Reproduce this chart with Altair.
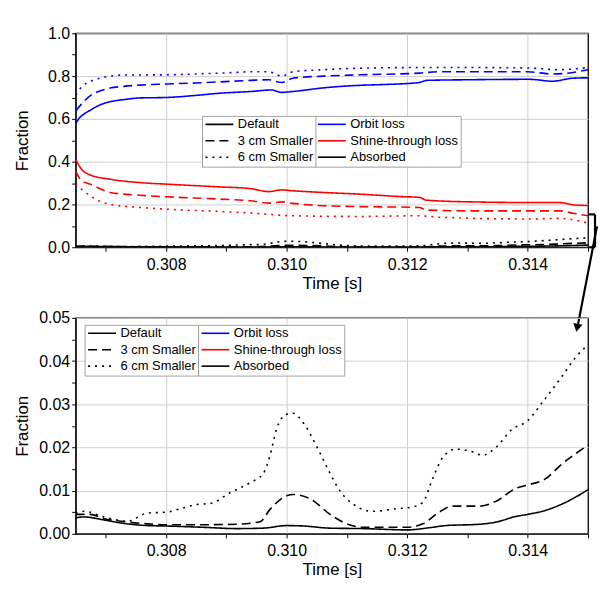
import altair as alt
import pandas as pd

# ---------------- data ----------------
CASES = ["Default", "3 cm Smaller", "6 cm Smaller"]
QUANTS = ["Orbit loss", "Shine-through loss", "Absorbed"]

orbit_default_t = [0.3065, 0.30655, 0.30665, 0.30674, 0.3069, 0.30707, 0.3073, 0.30757, 0.308, 0.3085, 0.30889, 0.3094, 0.30975, 0.30992, 0.3101, 0.31061, 0.31122, 0.31155, 0.3122, 0.31232, 0.31305, 0.31403, 0.31441, 0.31474, 0.315]
orbit_default_v = [0.577, 0.60, 0.625, 0.64, 0.665, 0.68, 0.69, 0.698, 0.70, 0.71, 0.72, 0.728, 0.735, 0.724, 0.728, 0.745, 0.757, 0.76, 0.77, 0.78, 0.783, 0.785, 0.776, 0.79, 0.792]

orbit_3cm_t = [0.3065, 0.3066, 0.30675, 0.3069, 0.30707, 0.3073, 0.30757, 0.308, 0.3085, 0.30889, 0.3094, 0.3097, 0.30992, 0.3101, 0.31061, 0.31122, 0.3122, 0.3125, 0.313, 0.3135, 0.314, 0.3144, 0.3146, 0.315]
orbit_3cm_v = [0.637, 0.67, 0.71, 0.73, 0.744, 0.752, 0.758, 0.763, 0.768, 0.773, 0.78, 0.783, 0.77, 0.79, 0.80, 0.806, 0.814, 0.82, 0.82, 0.82, 0.82, 0.81, 0.812, 0.83]

orbit_6cm_t = [0.3065, 0.3066, 0.30675, 0.3069, 0.30707, 0.3073, 0.308, 0.3085, 0.309, 0.3094, 0.3097, 0.30992, 0.3101, 0.31061, 0.31122, 0.3122, 0.313, 0.314, 0.3145, 0.315]
orbit_6cm_v = [0.713, 0.75, 0.776, 0.79, 0.80, 0.805, 0.806, 0.81, 0.815, 0.82, 0.82, 0.80, 0.82, 0.83, 0.837, 0.84, 0.84, 0.838, 0.83, 0.84]

shine_default_t = [0.3065, 0.3066, 0.30674, 0.30707, 0.30757, 0.308, 0.30889, 0.3094, 0.3097, 0.30992, 0.3101, 0.31061, 0.31122, 0.31188, 0.3122, 0.31232, 0.31305, 0.31403, 0.31452, 0.31477, 0.315]
shine_default_v = [0.41, 0.364, 0.338, 0.318, 0.302, 0.295, 0.282, 0.274, 0.26, 0.268, 0.264, 0.256, 0.248, 0.237, 0.233, 0.22, 0.212, 0.209, 0.209, 0.198, 0.195]

shine_3cm_t = [0.3065, 0.3066, 0.30674, 0.30707, 0.30757, 0.308, 0.30889, 0.3094, 0.30972, 0.30992, 0.3101, 0.31061, 0.31122, 0.3122, 0.31232, 0.31305, 0.31403, 0.31452, 0.31477, 0.315]
shine_3cm_v = [0.357, 0.31, 0.295, 0.256, 0.243, 0.236, 0.225, 0.217, 0.206, 0.212, 0.205, 0.194, 0.19, 0.186, 0.174, 0.17, 0.17, 0.17, 0.158, 0.147]

shine_6cm_t = [0.3065, 0.3066, 0.30674, 0.30707, 0.30757, 0.308, 0.30889, 0.3094, 0.3101, 0.31122, 0.3122, 0.31255, 0.31403, 0.31452, 0.315]
shine_6cm_v = [0.295, 0.27, 0.24, 0.20, 0.186, 0.178, 0.167, 0.16, 0.147, 0.144, 0.147, 0.14, 0.132, 0.135, 0.113]

absorbed_default_t = [0.3065, 0.30664, 0.30697, 0.30725, 0.30769, 0.308, 0.30862, 0.30917, 0.30961, 0.310, 0.31028, 0.31072, 0.31127, 0.312, 0.31237, 0.31264, 0.31319, 0.31347, 0.3138, 0.314, 0.31429, 0.31457, 0.315]
absorbed_default_v = [0.0037, 0.0039, 0.0032, 0.0025, 0.0019, 0.0018, 0.0015, 0.0012, 0.0013, 0.0019, 0.0018, 0.0013, 0.0012, 0.0009, 0.0014, 0.0019, 0.0022, 0.0027, 0.004, 0.0045, 0.0054, 0.0069, 0.0102]

absorbed_3cm_t = [0.3065, 0.30674, 0.30697, 0.30725, 0.30769, 0.308, 0.30862, 0.30917, 0.30956, 0.30972, 0.310, 0.31011, 0.31039, 0.31072, 0.311, 0.31127, 0.312, 0.31226, 0.31253, 0.31275, 0.31319, 0.31347, 0.3138, 0.314, 0.31429, 0.31457, 0.315]
absorbed_3cm_v = [0.0045, 0.0045, 0.0035, 0.0029, 0.0023, 0.0021, 0.0021, 0.0022, 0.0028, 0.0056, 0.0088, 0.0091, 0.0081, 0.0045, 0.0023, 0.0015, 0.0015, 0.0023, 0.005, 0.0064, 0.0064, 0.0075, 0.0105, 0.0113, 0.0127, 0.0162, 0.0205]

absorbed_6cm_t = [0.3065, 0.30664, 0.30697, 0.30736, 0.30769, 0.308, 0.30824, 0.30851, 0.30873, 0.30906, 0.30939, 0.30961, 0.30972, 0.30983, 0.310, 0.31011, 0.31028, 0.3105, 0.31072, 0.31088, 0.3111, 0.31143, 0.31182, 0.31209, 0.31226, 0.31242, 0.31259, 0.31281, 0.31303, 0.31325, 0.31347, 0.31374, 0.314, 0.31424, 0.31457, 0.31479, 0.315]
absorbed_6cm_v = [0.0047, 0.0052, 0.0039, 0.0029, 0.0048, 0.005, 0.0058, 0.0068, 0.007, 0.0095, 0.0118, 0.0139, 0.0179, 0.0241, 0.0277, 0.0279, 0.0256, 0.0202, 0.0140, 0.01, 0.0069, 0.0052, 0.0058, 0.0062, 0.0073, 0.0127, 0.0177, 0.0196, 0.0192, 0.0182, 0.02, 0.0242, 0.0262, 0.0304, 0.0365, 0.0408, 0.0438]

x_ticks = [0.307, 0.308, 0.309, 0.310, 0.311, 0.312, 0.313, 0.314, 0.315]
y_ticks_top = [0.0, 0.1, 0.2, 0.3, 0.4, 0.5, 0.6, 0.7, 0.8, 0.9, 1.0]
y_ticks_bottom = [0.0, 0.005, 0.01, 0.015, 0.02, 0.025, 0.03, 0.035, 0.04, 0.045, 0.05]

series = [
    ("Orbit loss", "Default", orbit_default_t, orbit_default_v),
    ("Orbit loss", "3 cm Smaller", orbit_3cm_t, orbit_3cm_v),
    ("Orbit loss", "6 cm Smaller", orbit_6cm_t, orbit_6cm_v),
    ("Shine-through loss", "Default", shine_default_t, shine_default_v),
    ("Shine-through loss", "3 cm Smaller", shine_3cm_t, shine_3cm_v),
    ("Shine-through loss", "6 cm Smaller", shine_6cm_t, shine_6cm_v),
    ("Absorbed", "Default", absorbed_default_t, absorbed_default_v),
    ("Absorbed", "3 cm Smaller", absorbed_3cm_t, absorbed_3cm_v),
    ("Absorbed", "6 cm Smaller", absorbed_6cm_t, absorbed_6cm_v),
]
rows = []
for q, c, ts, vs in series:
    for t, v in zip(ts, vs):
        rows.append({"t": t, "v": v, "quantity": q, "case": c})
df = pd.DataFrame(rows)
df_abs = df[df["quantity"] == "Absorbed"]

FONT = "Liberation Sans"
COLORS = ["#0000ff", "#ff0000", "#000000"]
DASHES = [[1, 0], [9, 5], [2, 5]]

x_enc = alt.X(
    "t:Q",
    scale=alt.Scale(domain=[0.3065, 0.315], nice=False, zero=False),
    axis=alt.Axis(
        title="Time [s]", values=x_ticks, labelOverlap=False, labelFlush=False,
        labelExpr="round(datum.value*1000) % 2 == 0 ? format(datum.value, '.3f') : ''",
        gridOpacity={"condition": {"test": "round(datum.value*1000) % 2 == 0", "value": 1}, "value": 0},
        tickSize=4, labelPadding=5, titlePadding=3,
    ),
)


def y_enc(domain, ticks, mult, fmt):
    return alt.Y(
        "v:Q",
        scale=alt.Scale(domain=domain, nice=False),
        axis=alt.Axis(
            title="Fraction", values=ticks, labelOverlap=False,
            labelExpr=f"round(datum.value*{mult}) % 2 == 0 ? format(datum.value, '{fmt}') : ''",
            gridOpacity={"condition": {"test": f"round(datum.value*{mult}) % 2 == 0", "value": 1}, "value": 0},
            tickSize=4, labelPadding=2, minExtent=37, maxExtent=37, titlePadding=7,
        ),
    )


def legends(x1, x2, y):
    common = dict(orient="none", legendY=y, title=None, strokeColor="#a0a0a0", fillColor="white",
                  padding=2, labelFontSize=13, labelFont=FONT, labelColor="black",
                  symbolType="M-1,0L4.6,0", symbolSize=100, symbolStrokeWidth=1.6,
                  rowPadding=2.5, labelOffset=21)
    color = alt.Color("quantity:N", scale=alt.Scale(domain=QUANTS, range=COLORS),
                      legend=alt.Legend(legendX=x2, **common))
    dash = alt.StrokeDash("case:N", scale=alt.Scale(domain=CASES, range=DASHES),
                          legend=alt.Legend(legendX=x1, symbolStrokeColor="black", **common))
    return color, dash


c_top, d_top = legends(127, 240, 83)
top_lines = alt.Chart(df).mark_line(clip=True, strokeWidth=1.6, interpolate="monotone").encode(
    x=x_enc, y=y_enc([0, 1], y_ticks_top, 10, ".1f"), color=c_top, strokeDash=d_top,
    detail="case:N",
)

one = pd.DataFrame({"k": [0]})
br_top = alt.Chart(one).mark_rule(color="black", strokeWidth=2.2).encode(
    x=alt.value(516), x2=alt.value(522), y=alt.value(182))
br_vert = alt.Chart(one).mark_rule(color="black", strokeWidth=2.2).encode(
    x=alt.value(522), y=alt.value(182), y2=alt.value(215))
br_bot = alt.Chart(one).mark_rule(color="black", strokeWidth=2.2).encode(
    x=alt.value(516), x2=alt.value(522), y=alt.value(215))
arrow_line = alt.Chart(one).mark_rule(color="black", strokeWidth=2.2).encode(
    x=alt.value(524), x2=alt.value(505), y=alt.value(194), y2=alt.value(292))
arrow_head = alt.Chart(one).mark_point(shape="triangle-down", filled=True, color="black",
                                       size=90, angle=11, opacity=1).encode(
    x=alt.value(504), y=alt.value(296))

top = alt.layer(top_lines, br_top, br_vert, br_bot, arrow_line, arrow_head).properties(
    width=515, height=215)

c_bot, d_bot = legends(9, 123, 7)
bottom = alt.Chart(df_abs).mark_line(clip=True, strokeWidth=1.6, interpolate="monotone").encode(
    x=x_enc, y=y_enc([0, 0.05], y_ticks_bottom, 200, ".2f"), color=c_bot, strokeDash=d_bot,
    detail="case:N",
).properties(width=515, height=217)

chart = alt.vconcat(top, bottom, spacing=71, bounds="flush").resolve_scale(
    color="independent", strokeDash="independent", y="independent"
).properties(
    padding={"left": 5, "top": 15, "right": 0, "bottom": -2}
).configure(font=FONT).configure_view(
    stroke="black", strokeWidth=1.3
).configure_axis(
    labelFont=FONT, titleFont=FONT, labelFontSize=16, titleFontSize=17,
    labelColor="black", titleColor="black", tickColor="black", domainColor="black",
    titleFontWeight="normal", gridColor="#d0d0d0", gridWidth=1,
)

chart.save("out.html", embed_options={"renderer": "svg", "actions": False})
